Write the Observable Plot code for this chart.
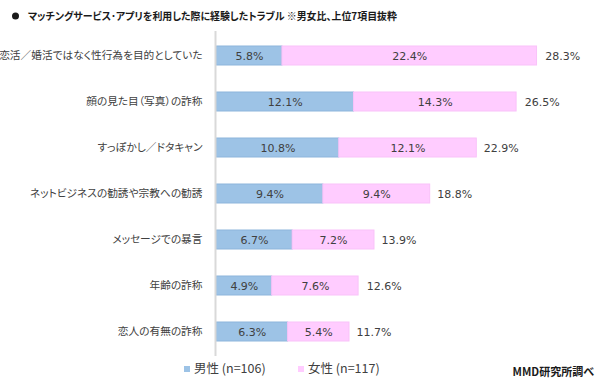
<!DOCTYPE html>
<html>
<head>
<meta charset="utf-8">
<script src="https://cdn.jsdelivr.net/npm/d3@7"></script>
<script src="https://cdn.jsdelivr.net/npm/@observablehq/plot@0.6"></script>
<style>
  body { margin: 0; background: #fff; }
  svg text { font-feature-settings: "palt" 1; }
</style>
</head>
<body>
<div id="chart"></div>
<script>
const titleText = "マッチングサービス･アプリを利用した際に経験したトラブル ※男女比、上位7項目抜粋";
const sourceText = "MMD研究所調べ";
const categories = [
  "恋活／婚活ではなく性行為を目的としていた",
  "顔の見た目（写真）の詐称",
  "すっぽかし／ドタキャン",
  "ネットビジネスの勧誘や宗教への勧誘",
  "メッセージでの暴言",
  "年齢の詐称",
  "恋人の有無の詐称"
];
const seriesNames = ["男性", "女性"];
const legendLabels = ["男性 (n=106)", "女性 (n=117)"];
const male = [5.8, 12.1, 10.8, 9.4, 6.7, 4.9, 6.3];
const female = [22.4, 14.3, 12.1, 9.4, 7.2, 7.6, 5.4];
const totals = [28.3, 26.5, 22.9, 18.8, 13.9, 12.6, 11.7];
const fills = ["#9dc3e6", "#ffccff"];
const strokes = ["#8db5dc", "#f9c2f9"];

const data = [];
categories.forEach((c, i) => {
  data.push({cat: c, s: 0, value: male[i]});
  data.push({cat: c, s: 1, value: female[i]});
});

const numFont = "'DejaVu Sans', sans-serif";
const plot = Plot.plot({
  width: 600,
  height: 385,
  marginLeft: 216,
  marginRight: 43,
  marginTop: 31,
  marginBottom: 29,
  style: {fontFamily: "'Noto Sans CJK JP', sans-serif", color: "#404040", background: "#fff"},
  x: {domain: [0, 30], axis: null},
  y: {domain: categories, paddingInner: 0.591, paddingOuter: 0.2955, axis: null},
  color: {type: "identity"},
  marks: [
    Plot.barX(data, Plot.stackX({x: "value", y: "cat", order: null,
      fill: d => fills[d.s], stroke: d => strokes[d.s], strokeWidth: 1})),
    Plot.ruleX([0], {stroke: "#d9d9d9", strokeWidth: 2, dx: -1}),
    Plot.text(data, Plot.stackX({x: "value", y: "cat", order: null,
      text: d => d.value.toFixed(1) + "%", fill: "#404040", fontSize: 11, fontFamily: numFont})),
    Plot.text(categories, {x: (d, i) => totals[i], y: d => d, text: (d, i) => totals[i].toFixed(1) + "%",
      textAnchor: "start", dx: 7, fill: "#404040", fontSize: 11, fontFamily: numFont}),
    Plot.axisY({tickSize: 0, tickPadding: 14, fontSize: 10.7, fill: "#404040", label: null})
  ]
});
document.getElementById("chart").appendChild(plot);

const svg = d3.select(plot);
const g = svg.append("g").attr("text-anchor", "start");
// title
g.append("circle").attr("cx", 15.5).attr("cy", 16).attr("r", 3.5).attr("fill", "#1a1a1a");
g.append("text").attr("x", 28).attr("y", 16).attr("dy", "0.35em").attr("text-anchor", "start")
  .attr("font-size", 10.5).attr("font-weight", "bold").attr("fill", "#1a1a1a")
  .attr("textLength", 369).attr("lengthAdjust", "spacingAndGlyphs")
  .text(titleText);
// legend
const legX = [184, 298];
legendLabels.forEach((lab, i) => {
  g.append("rect").attr("x", legX[i]).attr("y", 366).attr("width", 6).attr("height", 6).attr("fill", fills[i]);
  g.append("text").attr("x", legX[i] + 10).attr("y", 369).attr("dy", "0.35em").attr("text-anchor", "start")
    .attr("font-size", 12.5).attr("fill", "#404040").text(lab);
});
// source
g.append("text").attr("x", 594).attr("y", 372).attr("dy", "0.35em").attr("text-anchor", "end")
  .attr("font-size", 11).attr("font-weight", "bold").attr("fill", "#1a1a1a").text(sourceText);
</script>
</body>
</html>
